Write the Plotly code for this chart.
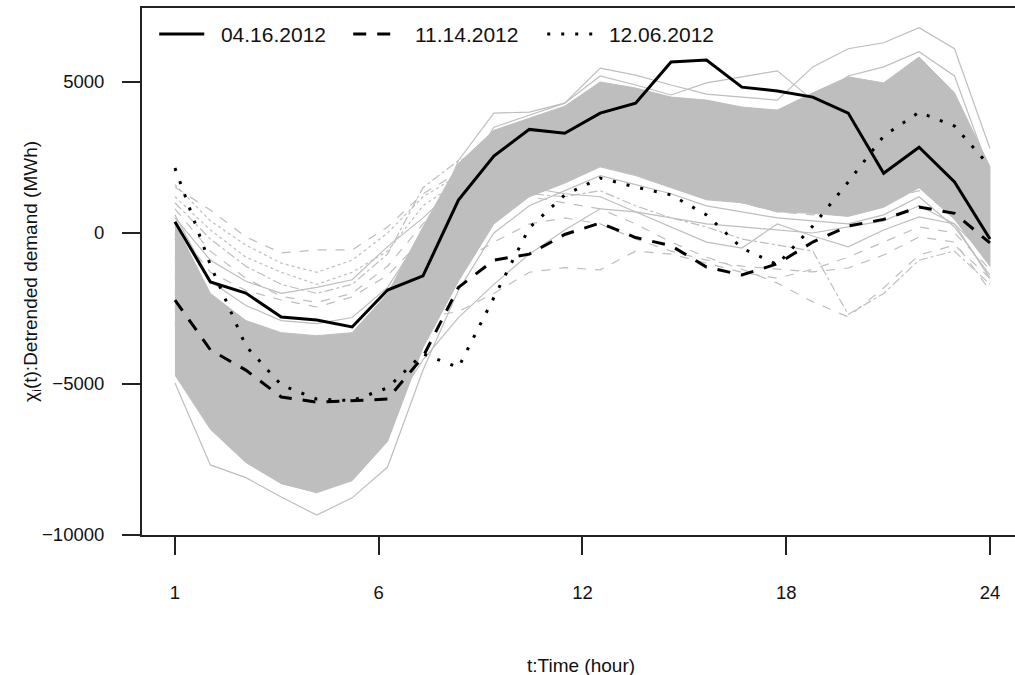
import plotly.graph_objects as go

hours = list(range(1, 25))
tick_pos = [1, 6.75, 12.5, 18.25, 24]
tick_lab = ["1", "6", "12", "18", "24"]
y_ticks = [-10000, -5000, 0, 5000]
y_tick_lab = ["\u221210000", "\u22125000", "0", "5000"]

# highlighted days
d0416 = [370, -1620, -1990, -2780, -2880, -3110, -1890, -1420, 1090, 2550, 3430, 3300,
         3970, 4300, 5660, 5730, 4830, 4700, 4500, 3970, 1980, 2840, 1690, -200]
d1114 = [-2220, -3870, -4540, -5430, -5600, -5560, -5500, -4100, -1800, -900, -700, -50,
         330, -150, -420, -1130, -1390, -1020, -300, 230, 450, 860, 650, -330]
d1206 = [2150, -1060, -3740, -5030, -5500, -5550, -5130, -4000, -4450, -2150, 170, 1260,
         1820, 1520, 1260, 600, -500, -1050, 230, 1690, 3210, 4000, 3540, 2200]

# dense band of all other days (upper / lower edge)
core_upper = [300, -2000, -2900, -3300, -3400, -3300, -2000, 200, 2300, 3400, 3800, 4200,
              5000, 4800, 4500, 4400, 4170, 4070, 4640, 5170, 4970, 5830, 4640, 2200]
core_lower = [-4700, -6500, -7600, -8300, -8600, -8200, -6900, -3800, -1600, 300, 1200, 1650,
              2190, 1900, 1500, 1100, 1000, 700, 650, 550, 850, 1500, 450, -1100]

# individual other days read from the spaghetti
g_low = [-4970, -7680, -8100, -8740, -9340, -8770, -7750, -4540, -1900, 0, 900, 1400,
         1900, 1600, 1300, 900, 700, 500, 400, 300, 600, 1200, 200, -1400]
g_top1 = [-200, -3500, -5000, -5800, -6200, -6000, -4800, -1800, 1500, 3500, 3900, 4300,
          5460, 5230, 4900, 4600, 4500, 4400, 5500, 6100, 6300, 6800, 6100, 2800]
g_top2 = [300, -2500, -3800, -4600, -5000, -4800, -3500, -500, 2400, 3970, 4000, 4300,
          5200, 4900, 4570, 4970, 5170, 5370, 4400, 5200, 5500, 6000, 5200, 2000]
t1 = [1520, 760, -130, -660, -560, -560, 200, 1300, 2000, 2300, 2500, 2600,
      2900, 2400, 2000, 1600, 1300, 1200, 1100, 1400, 1500, 1800, 1500, 200]
t2 = [1200, 100, -800, -1300, -1700, -1300, -600, 900, 1700, 2200, 2500, 2400,
      2700, 2500, 2200, 1900, 1500, 1200, 1300, 1600, 1800, 2100, 1400, 300]
t3 = [800, -600, -1500, -2100, -2300, -2000, -1100, 300, 1400, 2000, 2200, 2000,
      2300, 2000, 1700, 1500, 1300, 1100, 900, 1300, 1400, 1600, 1200, -300]
t4 = [500, -900, -1600, -2000, -1800, -1550, -450, 500, 1600, 2300, 2700, 2800,
      3100, 2900, 2500, 2200, 1900, 1700, 1600, 2000, 2200, 2600, 1900, 100]
t5 = [200, -1300, -1900, -2220, -2450, -2120, -1400, -200, 1200, 2000, 2300, 2200,
      2500, 2200, 1800, 1400, 1000, 700, 600, 900, 1100, 1400, 900, -600]
t6 = [1000, -200, -1100, -1700, -2000, -1700, -700, 1500, 2400, 2800, 3000, 2900,
      3300, 3000, 2600, 2300, 2000, 1900, 2000, 2400, 2600, 3000, 2200, 400]
t7 = [1600, 400, -400, -1000, -1300, -900, 0, 1200, 1900, 2400, 2700, 2600,
      3000, 2700, 2300, 2000, 1700, 1500, 1500, 1900, 2100, 2500, 1900, 500]
t8 = [600, -1600, -2400, -2900, -3000, -2800, -1800, 0, 1800, 2900, 3300, 3500,
      3900, 3600, 3300, 3000, 2700, 2600, 2800, 3300, 3300, 3800, 2900, 900]
l1 = [-1200, -2600, -3300, -3800, -4000, -3900, -3400, -2800, -2600, -2000, -1300, -1150,
      -1220, -600, -700, -1000, -1300, -1500, -1200, -800, -300, 200, 0, -1200]
l2 = [-800, -2800, -3600, -4200, -4500, -4300, -3600, -1500, 0, 800, 1200, 1000,
      800, 300, -300, -800, -1200, -1660, -2280, -2780, -1820, -730, -400, -1500]
l3 = [-1500, -3500, -4300, -4900, -5200, -5000, -4200, -1800, 200, 1000, 1300, 1200,
      1400, 900, 500, 200, -200, -400, -600, -2700, -2000, -900, -600, -1700]
l4 = [-2000, -3800, -4600, -5200, -5400, -5200, -4500, -2800, -1000, -300, 300, 500,
      300, -200, -600, -900, -1100, -1200, -1290, -1160, -730, -130, -300, -1900]
s1 = [-3000, -5000, -6000, -6500, -6800, -6500, -6000, -4200, -2800, -1700, -700, 100,
      800, 700, 500, 300, 200, 100, 0, 200, 400, 900, 300, -1500]
m1 = [-2500, -4500, -5500, -6000, -6300, -6100, -5200, -2500, -500, 800, 1500, 1300,
      1200, 700, 200, -300, -500, 300, -100, -460, 100, 530, 300, -900]

GRAY = "#BEBEBE"
fig = go.Figure()

fig.add_trace(go.Scatter(
    x=hours + hours[::-1], y=core_upper + core_lower[::-1],
    fill="toself", fillcolor=GRAY, mode="lines",
    line=dict(color=GRAY, width=1), showlegend=False, hoverinfo="skip"))

others = [
    (g_low, "solid"), (g_top1, "solid"), (g_top2, "solid"),
    (t1, "dash"), (t2, "dot"), (t3, "dash"), (t4, "solid"), (t5, "dash"),
    (t6, "dashdot"), (t7, "dot"), (t8, "solid"),
    (l1, "dash"), (l2, "dash"), (l3, "dashdot"), (l4, "dash"),
    (s1, "solid"), (m1, "solid"),
]
for vals, dsh in others:
    fig.add_trace(go.Scatter(x=hours, y=vals, mode="lines",
                             line=dict(color=GRAY, width=1.2, dash=dsh),
                             showlegend=False, hoverinfo="skip"))

GAP = "\u00a0\u00a0"
fig.add_trace(go.Scatter(x=hours, y=d0416, mode="lines", name=GAP + "04.16.2012",
                         line=dict(color="black", width=3)))
fig.add_trace(go.Scatter(x=hours, y=d1114, mode="lines", name=GAP + "11.14.2012",
                         line=dict(color="black", width=3, dash="13px,11px")))
fig.add_trace(go.Scatter(x=hours, y=d1206, mode="lines", name=GAP + "12.06.2012",
                         line=dict(color="black", width=3, dash="3px,11px")))

FONT = "Liberation Sans, Arial, Helvetica, sans-serif"
fig.update_layout(
    width=1015, height=675,
    margin=dict(l=142, r=0, t=8, b=140),
    paper_bgcolor="white", plot_bgcolor="white",
    font=dict(family=FONT, size=18.5, color="#111"),
    showlegend=True,
    legend=dict(orientation="h", x=0.014, y=0.95, xanchor="left", yanchor="middle",
                font=dict(size=21, color="#111"), bgcolor="rgba(0,0,0,0)",
                itemwidth=45, entrywidth=134, entrywidthmode="pixels",
                traceorder="normal"),
    xaxis=dict(range=[0.07, 24.707], tickmode="array", tickvals=tick_pos, ticktext=tick_lab,
               showgrid=False, zeroline=False, showline=True, linecolor="#222", linewidth=2,
               mirror=True, ticks="outside", ticklen=18, tickwidth=1.5, tickcolor="#222",
               ticklabelstandoff=22),
    yaxis=dict(range=[-10000, 7450], tickmode="array", tickvals=y_ticks, ticktext=y_tick_lab,
               showgrid=False, zeroline=False, showline=True, linecolor="#222", linewidth=2,
               ticks="outside", ticklen=18, tickwidth=1.5, tickcolor="#222",
               ticklabelstandoff=14),
    annotations=[
        dict(text="t:Time (hour)", xref="paper", yref="paper", x=0.503, y=-0.2467,
             xanchor="center", yanchor="middle", showarrow=False,
             font=dict(size=19, color="#111")),
        dict(text="\u03c7<sub>i</sub>(t):Detrended demand (MWh)", xref="paper", yref="paper",
             x=-0.126, y=0.499, xanchor="center", yanchor="middle", textangle=-90,
             showarrow=False, font=dict(size=19, color="#111")),
    ],
)

fig.write_html("out.html", config={"displayModeBar": False},
               post_script="document.body.style.margin='0px';")
